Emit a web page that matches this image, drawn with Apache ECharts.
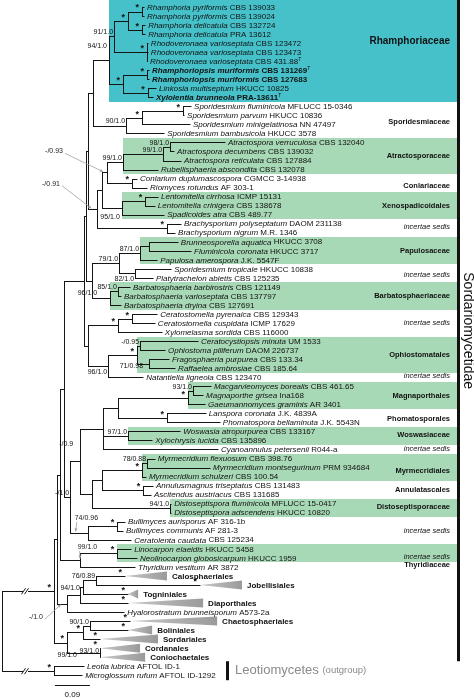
<!DOCTYPE html>
<html><head><meta charset="utf-8">
<script src="https://cdn.jsdelivr.net/npm/echarts@6/dist/echarts.min.js"></script>
<style>html,body{margin:0;padding:0;background:#fff;overflow:hidden}#chart{width:474px;height:698px}</style>
</head><body><div id="chart"></div>
<script>
// ================= DATA =================
const tipTaxon = [
 'Rhamphoria pyriformis','Rhamphoria pyriformis','Rhamphoria delicatula','Rhamphoria delicatula',
 'Rhodoveronaea varioseptata','Rhodoveronaea varioseptata','Rhodoveronaea varioseptata',
 'Rhamphoriopsis muriformis','Rhamphoriopsis muriformis','Linkosia multiseptum','Xylolentia brunneola',
 'Sporidesmium fluminicola','Sporidesmium parvum','Sporidesmium minigelatinosa','Sporidesmium bambusicola',
 'Atractospora verruculosa','Atractospora decumbens','Atractospora reticulata','Rubellisphaeria abscondita',
 'Conlarium duplumascospora','Riomyces rotundus','Lentomitella cirrhosa','Lentomitella crinigera','Spadicoides atra',
 'Brachysporium polyseptatum','Brachysporium nigrum','Brunneosporella aquatica','Fluminicola coronata','Papulosa amerospora',
 'Sporidesmium tropicale','Platytrachelon abietis','Barbatosphaeria barbirostris','Barbatosphaeria varioseptata','Barbatosphaeria dryina',
 'Ceratostomella pyrenaica','Ceratostomella cuspidata','Xylomelasma sordida','Ceratocystiopsis minuta','Ophiostoma piliferum',
 'Fragosphaeria purpurea','Raffaelea ambrosiae','Natantiella ligneola','Macgarvieomyces borealis','Magnaporthe grisea',
 'Gaeumannomyces graminis','Lanspora coronata','Phomatospora bellaminuta','Woswasia atropurpurea','Xylochrysis lucida',
 'Cyanoannulus petersenii','Myrmecridium flexuosum','Myrmecridium montsegurinum','Myrmecridium schulzeri',
 'Annulusmagnus triseptatus','Ascitendus austriacus','Distoseptispora fluminicola','Distoseptispora adscendens',
 'Bullimyces aurisporus','Bullimyces communis','Ceratolenta caudata','Linocarpon elaeidis','Neolinocarpon globosicarpum',
 'Thyridium vestitum','Calosphaeriales','Jobellisiales','Togniniales','Diaporthales','Hyalorostratum brunneisporum',
 'Chaetosphaeriales','Boliniales','Sordariales','Cordanales','Coniochaetales','Leotia lubrica','Microglossum rufum'];
const tipVoucher = [
 'CBS 139033','CBS 139024','CBS 132724','PRA 13612',
 'CBS 123472','CBS 123473','CBS 431.88',
 'CBS 131269','CBS 127683','HKUCC 10825','PRA-13611',
 'MFLUCC 15-0346','HKUCC 10836','NN 47497','HKUCC 3578',
 'CBS 132040','CBS 139032','CBS 127884','CBS 132078',
 'CGMCC 3-14938','AF 303-1','ICMP 15131','CBS 138678','CBS 489.77',
 'DAOM 231138','M.R. 1346','HKUCC 3708','HKUCC 3717','J.K. 5547F',
 'HKUCC 10838','CBS 125235','CBS 121149','CBS 137797','CBS 127691',
 'CBS 129343','ICMP 17629','CBS 116000','UM 1533','DAOM 226737',
 'CBS 133.34','CBS 185.64','CBS 123470','CBS 461.65','Ina168',
 'AR 3401','J.K. 4839A','J.K. 5543N','CBS 133167','CBS 135896',
 'R044-a','CBS 398.76','PRM 934684','CBS 100.54',
 'CBS 131483','CBS 131685','MFLUCC 15-0417','HKUCC 10820',
 'AF 316-1b','AF 281-3','CBS 125234','HKUCC 5458','HKUCC 1959',
 'AR 3872','','','','','A573-2a',
 '','','','','','AFTOL ID-1','AFTOL ID-1292'];
const typeStrainTips = [6, 7, 10];
const boldTips = [7, 8, 10];
// distance from root of each tip, in 0.001 substitutions/site (collapsed clades: far edge of the wedge)
const tipDepth = [
 365,365,368,368, 375,375,373, 378,378,396,388,
 486,468,483,417, 573,442,460,401, 347,373, 401,393,417,
 460,445, 452,486,399, 435,388, 329,306,306,
 399,393,411, 504,419,429,445, 363,
 537,517,522, 524,560, 458,386, 555,
 393,535,370, 388,383, 435,435,
 316,311,332, 332,347, 342,
 424,617,350,517, 314, 553,386,401,355,368,
 211,206];
const collapsedTips = [63,64,65,66,68,69,70,71,72];
const collapsedCrown = [316,509,324,324,329,324,252,252,252];
// internal nodes: [id, depth from root (0.001 subst./site), children (tip index or node id)]
const clades = [
 ['Rpyr',360,[0,1]],['Rdel',360,[2,3]],['Rham',324,['Rpyr','Rdel']],['Rhodo',373,[4,5,6]],
 ['n91',288,['Rham','Rhodo']],['Rmur',373,[7,8]],['LinXyl',375,[9,10]],['RmX',311,['Rmur','LinXyl']],
 ['n94a',275,['n91','RmX']],
 ['Sfp',465,[11,12]],['Smin',360,['Sfp',13]],['n90',319,['Smin',14]],
 ['n98',432,[15,16]],['n99b',414,['n98',17]],['n99a',311,['n99b',18]],
 ['Conl',334,[19,20]],['Lent',368,[21,22]],['n95',308,['Lent',23]],['Brach',424,[24,25]],
 ['n87',378,[26,27]],['Pap',355,['n87',28]],['n82',342,[29,30]],['n79',301,['Pap','n82']],
 ['n85',298,[31,32]],['n96a',278,['n85',33]],
 ['Cer',334,[34,35]],['CerX',298,['Cer',36]],
 ['n095',355,[37,38]],['n71',378,[39,40]],['Oph',347,['n095','n71']],['n96b',273,['Oph',41]],
 ['n93',491,[42,43]],['Mag',478,['n93',44]],['Lan',424,[45,46]],['MP',298,['Mag','Lan']],
 ['n97',324,[47,48]],['WC',260,['MP','n97',49]],
 ['n78',373,[50,51]],['Myr',360,['n78',52]],['Ann',363,[53,54]],['MA',257,['Myr','Ann']],
 ['n94b',432,[55,56]],['MAD',231,['MA','n94b']],
 ['Bul',296,[57,58]],['n74',221,['Bul',59]],['Lin',296,[60,61]],
 ['A1',234,['n94a','n90']],['A2',270,['n99a','Conl']],['A2b',257,['A2','n95']],['A2c',244,['A2b','Brach']],
 ['A3',221,['A1','A2c']],['B1',231,['n79','n96a']],['A4',216,['A3','B1']],['CO',221,['CerX','n96b']],
 ['A5',211,['A4','CO']],['X',201,['WC','MAD']],['M2',175,['X','n74']],['M4',159,['A5','M2']],
 ['LT',201,['Lin',62]],['U',149,['M4','LT']],
 ['n76',242,[63,64]],['n94c',208,['n76',65]],['DP',200,['n94c',66]],['DH',167,['DP',67]],
 ['Dia',141,['U','DH']],
 ['n90b',226,[68,69]],['CBS',208,['n90b',70]],['n93b',252,[71,72]],['Sod',167,['CBS','n93b']],
 ['S',134,['Dia','Sod']],['Leo',134,[73,74]],
 ['root',0,['S','Leo']]];
// bootstrap / posterior probability labels ("*" = 100/1.0)
const supports = [
 ['Rpyr','*'],['Rdel','*'],['Rham','*'],['Rhodo','*'],['n91','91/1.0'],['Rmur','*'],['LinXyl','*'],['RmX','*'],
 ['n94a','94/1.0'],['Sfp','*'],['Smin','*'],['n90','90/1.0'],['n98','98/1.0'],['n99b','99/1.0'],['n99a','99/1.0'],
 ['Conl','*'],['Lent','*'],['n95','95/1.0'],['Brach','*'],['Pap','87/1.0'],['n82','82/1.0'],['n79','79/1.0'],
 ['n85','85/1.0'],['n96a','96/1.0'],['Cer','*'],['CerX','*'],['n095','-/0.95'],['n71','71/0.98'],['Oph','*'],
 ['n96b','96/1.0'],['n93','93/1.0'],['Mag','*'],['Lan','*'],['n97','97/1.0'],['n78','78/0.88'],['Myr','*'],
 ['Ann','*'],['n94b','94/1.0'],['Bul','*'],['n74','74/0.96'],['Lin','*'],['LT','99/1.0'],['n76','76/0.89'],['n94c','94/1.0'],
 ['n90b','90/1.0'],['CBS','*'],['n93b','93/1.0'],['Sod','*'],['Sod','99/1.0'],['Leo','*'],['S','*'],
 ['A2','-/0.93'],['A2c','-/0.91'],['X','-/0.9'],['M2','-/1.0'],['DH','-/1.0'],
 ['t63','*'],['t64','*'],['t65','*'],['t66','*'],['t68','*'],['t69','*'],['t70','*'],['t71','*']];
const brokenBranches = ['S','Leo'];
// shaded families: crown node, first tip, last tip, kind
const bandNode = ['n94a','n99a','n95','Pap','n96a','Oph','Mag','n97','Myr','n94b','Lin'];
const bandFirst = [0,15,21,26,31,37,42,47,50,55,60];
const bandLast  = [10,18,23,28,33,40,44,48,52,56,61];
const bandKind  = ['teal','g','g','g','g','g','g','g','g','g','g'];
// right-hand classification labels
const groupNames = ['Rhamphoriaceae','Sporidesmiaceae','Atractosporaceae','Conlariaceae','Xenospadicoidales','incertae sedis',
 'Papulosaceae','incertae sedis','Barbatosphaeriaceae','incertae sedis','Ophiostomatales','incertae sedis','Magnaporthales',
 'Phomatosporales','Woswasiaceae','incertae sedis','Myrmecridiales','Annulatascales','Distoseptisporaceae','incertae sedis',
 'incertae sedis','Thyridiaceae'];
const groupRows = [3.84,12.7,16.5,19.8,22.0,24.4,27.0,29.7,32.0,35.0,38.5,40.9,43.1,45.6,47.4,48.9,51.4,53.5,55.4,58.0,60.9,61.8];
const subclassName = 'Sordariomycetidae';
const subclassLastTip = 72;
const outgroupName = 'Leotiomycetes';
const outgroupNote = '(outgroup)';
const outgroupTips = [73,74];
const scaleBarLength = 90;     // 0.09 subst./site
const scaleBarStart = 136;
const scaleBarLabel = '0.09';

// ================= LAYOUT (computed from data) =================
const FONT = '"Liberation Sans", Arial, Helvetica, sans-serif';
const key = k => typeof k === 'number' ? 't' + k : k;
const depthOf = {}, stemEnd = {}, rowOf = {}, rowMin = {}, rowMax = {}, parentOf = {};
tipTaxon.forEach((_, i) => {
  const k = 't' + i; depthOf[k] = tipDepth[i]; rowOf[k] = i; rowMin[k] = i; rowMax[k] = i;
  const c = collapsedTips.indexOf(i); stemEnd[k] = c >= 0 ? collapsedCrown[c] : tipDepth[i];
});
clades.forEach(([id, d, kids]) => {
  depthOf[id] = d; stemEnd[id] = d;
  const rs = kids.map(k => rowOf[key(k)]);
  rowMin[id] = Math.min(...rs); rowMax[id] = Math.max(...rs);
  rowOf[id] = (rowMin[id] + rowMax[id]) / 2;
  kids.forEach(k => parentOf[key(k)] = id);
});
const allKeys = Object.keys(depthOf);
const branchData = allKeys.map(k => {
  const p = parentOf[k];
  const isTip = k[0] === 't' && !isNaN(+k.slice(1));
  return [p ? depthOf[p] : depthOf[k], stemEnd[k], rowOf[k], isTip ? rowOf[k] : rowMin[k], isTip ? rowOf[k] : rowMax[k]];
});
const triData = collapsedTips.map((t, j) => [collapsedCrown[j], tipDepth[t], t]);
const tipLabelData = tipTaxon.map((_, i) => [tipDepth[i], i, i]);
const supportData = supports.map(([k], j) => [stemEnd[k], rowOf[k], j, parentOf[k] ? depthOf[parentOf[k]] : 0]);
const bandData = bandNode.map((n, j) => [depthOf[n], bandFirst[j], bandLast[j], j]);
const groupData = groupNames.map((_, j) => [0, groupRows[j], j]);
const brokenData = brokenBranches.map(k => [depthOf[parentOf[k]], stemEnd[k], rowOf[k]]);

// placement tweaks (pixels): label shifted from node end [dx, dy] (right-middle anchor)
const labelShift = { 'n95|95/1.0': [-2, 9], 'n82|82/1.0': [-1, 5.5], 'n96a|96/1.0': [-13, -5], 'n71|71/0.98': [-6, 2.5],
  'n96b|96/1.0': [-1, 6], 'X|-/0.9': [-7, -17], 'Sod|99/1.0': [10, 13], 'n94a|94/1.0': [-2, -14], 'n94c|94/1.0': [-3, 1],
  'n93b|93/1.0': [-1, -2] };
// labels with grey pointer: [dx, dy, t] from the point at fraction t along the labelled branch
const pointerLabels = { 'A2': [-41.5, -21, 0.5], 'A2c': [-32.5, -25.5, 0.5], 'n74': [22.6, -15, 0.3],
  'LT': [17, -13, 1], 'DH': [-19, 13.5, 0.5] };

const RICH = {
  i: {fontStyle: 'italic', fontSize: 8, fontFamily: FONT, fill: '#111'},
  ib: {fontStyle: 'italic', fontWeight: 'bold', fontSize: 8, fontFamily: FONT, fill: '#111'},
  r: {fontSize: 8, fontFamily: FONT, fill: '#111'},
  sup: {fontSize: 5, fontFamily: FONT, fill: '#111', verticalAlign: 'top', padding: [0, 0, 4, 0]},
  o: {fontWeight: 'bold', fontSize: 8, fontFamily: FONT, fill: '#111'}
};
function tipText(i) {
  if (collapsedTips.indexOf(i) >= 0) return '{o|' + tipTaxon[i] + '}';
  const tx = (boldTips.indexOf(i) >= 0 ? '{ib|' : '{i|') + tipTaxon[i] + '}';
  let v = tipVoucher[i] ? (boldTips.indexOf(i) >= 0 ? ' {o|' : ' {r|') + tipVoucher[i] + '}' : '';
  if (typeStrainTips.indexOf(i) >= 0) v += '{sup|T}';
  return tx + v;
}
const S = v => Math.round(v) + 0.5;
const LINE = {stroke: '#151515', lineWidth: 1};
const txtStyle = (t, size, align, extra) => Object.assign({text: t, fontSize: size, fontFamily: FONT, fill: '#111',
  textAlign: align, textVerticalAlign: 'middle', align: align, verticalAlign: 'middle'}, extra || {});

const chart = echarts.init(document.getElementById('chart'), null, {renderer: 'canvas'});
chart.setOption({
  animation: false,
  grid: {left: 0, right: 0, top: 0, bottom: 0},
  xAxis: {type: 'value', min: -5.14, max: 1213.4, show: false},
  yAxis: {type: 'value', min: -0.775, max: 76.52, inverse: true, show: false},
  series: [
    { // family shading
      type: 'custom', z: 1, data: bandData,
      renderItem: (p, api) => {
        const j = api.value(3);
        const a = api.coord([api.value(0), api.value(1) - 0.5]);
        const b = api.coord([api.value(0), api.value(2) + 0.5]);
        const top = api.value(1) === 0 ? 0 : Math.round(a[1]);
        const right = api.coord([0, 0])[0] + 455;
        return {type: 'rect', shape: {x: Math.round(a[0]), y: top, width: right - Math.round(a[0]), height: Math.round(b[1]) - top},
          style: {fill: bandKind[j] === 'teal' ? '#46c1c9' : '#a8d9b6'}};
      }
    },
    { // branches
      type: 'custom', z: 3, data: branchData,
      renderItem: (p, api) => {
        const d0 = api.value(0), d1 = api.value(1), r = api.value(2), r0 = api.value(3), r1 = api.value(4);
        const a = api.coord([d0, r]), b = api.coord([d1, r]);
        const ch = [];
        if (b[0] - a[0] > 0.3) ch.push({type: 'line', shape: {x1: S(a[0]) - 0.5, y1: S(a[1]), x2: S(b[0]), y2: S(b[1])}, style: LINE});
        if (r1 > r0) {
          const t = api.coord([d1, r0]), u = api.coord([d1, r1]);
          ch.push({type: 'line', shape: {x1: S(t[0]), y1: S(t[1]) - 0.5, x2: S(u[0]), y2: S(u[1]) + 0.5}, style: LINE});
        }
        return {type: 'group', children: ch};
      }
    },
    { // collapsed clades
      type: 'custom', z: 3, data: triData,
      renderItem: (p, api) => {
        const a = api.coord([api.value(0), api.value(2)]), b = api.coord([api.value(1), api.value(2)]);
        const h = 4.5;
        return {type: 'polygon', shape: {points: [[a[0], a[1]], [b[0], b[1] - h], [b[0], b[1] + h]]},
          style: {fill: new echarts.graphic.LinearGradient(0, 0, 1, 0, [{offset: 0, color: '#c8c8c8'}, {offset: 1, color: '#9a9a9a'}])}};
      }
    },
    { // tip labels
      type: 'custom', z: 4, data: tipLabelData,
      renderItem: (p, api) => {
        const i = api.value(2);
        const c = api.coord([api.value(0), api.value(1)]);
        const gap = collapsedTips.indexOf(i) >= 0 ? 5 : 3;
        return {type: 'text', x: c[0] + gap, y: c[1] + 0.5, style: txtStyle(tipText(i), 8, 'left', {rich: RICH})};
      }
    },
    { // support values
      type: 'custom', z: 5, data: supportData,
      renderItem: (p, api) => {
        const j = api.value(2);
        const [id, txt] = supports[j];
        const c = api.coord([api.value(0), api.value(1)]);
        const star = txt === '*';
        const ptr = pointerLabels[id];
        if (ptr) {
          const st = api.coord([api.value(3), api.value(1)]);
          const mx = st[0] + (c[0] - st[0]) * ptr[2], my = c[1];
          const lx = mx + ptr[0], ly = my + ptr[1];
          const w = txt.length * 3.6;
          const sx = ptr[0] < 0 ? lx + 2 : lx - w + 4, sy = ptr[0] < 0 ? ly + 2 : ly + 4;
          const ang = Math.atan2(my - sy, mx - sx), L = 3.5;
          const tx = mx - Math.cos(ang) * 1.5, ty = my - Math.sin(ang) * 1.5;
          return {type: 'group', children: [
            {type: 'text', x: lx, y: ly, style: txtStyle(txt, 7, 'right', {fill: '#222'})},
            {type: 'line', shape: {x1: sx, y1: sy, x2: tx, y2: ty}, style: {stroke: '#a0a0a0', lineWidth: 0.8}},
            {type: 'polygon', shape: {points: [[tx, ty],
              [tx - L * Math.cos(ang - 0.45), ty - L * Math.sin(ang - 0.45)],
              [tx - L * Math.cos(ang + 0.45), ty - L * Math.sin(ang + 0.45)]]}, style: {fill: '#a0a0a0'}}
          ]};
        }
        const sh = labelShift[id + '|' + txt];
        if (sh) return {type: 'text', x: c[0] + sh[0], y: c[1] + sh[1], style: txtStyle(txt, 7, 'right')};
        return {type: 'text', x: c[0] - (star ? 3 : 1), y: c[1] - (star ? -1 : 0.5),
          style: txtStyle(txt, star ? 9 : 7, 'right', {fontWeight: star ? 'bold' : 'normal', textVerticalAlign: 'bottom', verticalAlign: 'bottom'})};
      }
    },
    { // family / order labels
      type: 'custom', z: 5, data: groupData,
      renderItem: (p, api) => {
        const j = api.value(2);
        const c = api.coord([0, api.value(1)]);
        const nm = groupNames[j];
        const it = nm === 'incertae sedis';
        return {type: 'text', x: c[0] + 448, y: c[1],
          style: txtStyle(nm, j === 0 ? 10 : 7.5, 'right', {fontWeight: it ? 'normal' : 'bold', fontStyle: it ? 'italic' : 'normal'})};
      }
    },
    { // broken-branch marks
      type: 'custom', z: 6, data: brokenData,
      renderItem: (p, api) => {
        const a = api.coord([api.value(0), api.value(2)]);
        const x = a[0] + 23, y = a[1] + 0.5;
        const mk = dx => ({type: 'line', shape: {x1: x + dx - 2, y1: y + 3, x2: x + dx + 2, y2: y - 3}, style: {stroke: '#151515', lineWidth: 1}});
        return {type: 'group', children: [
          {type: 'rect', shape: {x: x - 2, y: y - 1, width: 5, height: 2}, style: {fill: '#fff'}}, mk(-1.5), mk(1.5)]};
      }
    },
    { // scale bar, subclass bar, outgroup bar
      type: 'custom', z: 6, data: [[scaleBarStart, scaleBarLength]],
      renderItem: (p, api) => {
        const last = api.coord([0, tipTaxon.length - 1]);
        const a = api.coord([api.value(0), tipTaxon.length - 1]);
        const b = api.coord([api.value(0) + api.value(1), tipTaxon.length - 1]);
        const sy = Math.round(last[1] + 10) + 0.5;
        const subBottom = api.coord([0, subclassLastTip + 0.45])[1];
        const og0 = api.coord([0, outgroupTips[0] - 0.55])[1], og1 = api.coord([0, outgroupTips[1] + 0.55])[1];
        const base = api.coord([0, 0])[0];
        return {type: 'group', children: [
          {type: 'line', shape: {x1: a[0], y1: sy, x2: b[0], y2: sy}, style: {stroke: '#151515', lineWidth: 1}},
          {type: 'text', x: (a[0] + b[0]) / 2, y: sy + 9, style: txtStyle(scaleBarLabel, 8, 'center')},
          {type: 'rect', shape: {x: base + 455, y: 0, width: 3, height: subBottom}, style: {fill: '#111'}},
          {type: 'text', x: base + 466, y: subBottom / 2, rotation: -Math.PI / 2, style: txtStyle(subclassName, 14, 'center')},
          {type: 'rect', shape: {x: base + 224, y: og0, width: 3, height: og1 - og0}, style: {fill: '#111'}},
          {type: 'text', x: base + 233, y: (og0 + og1) / 2, style: txtStyle('{a|' + outgroupName + '} {b|' + outgroupNote + '}', 13, 'left',
            {rich: {a: {fontSize: 13, fontFamily: FONT, fill: '#8a8a8a'}, b: {fontSize: 9.5, fontFamily: FONT, fill: '#8a8a8a'}}})}
        ]};
      }
    }
  ]
});
</script></body></html>
